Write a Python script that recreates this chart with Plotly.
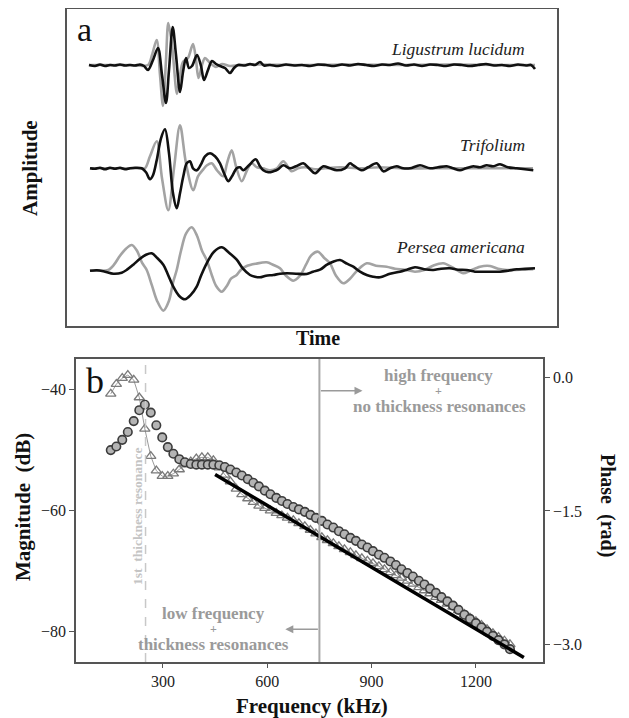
import plotly.graph_objects as go

# The page body has an 8px margin, so the figure is drawn 8px in from the top-left corner.
PAGE_MARGIN = 8
W, H = 621, 710
SERIF = "Liberation Serif, Times New Roman, serif"

# ---------------- panel a: waveforms (time samples, amplitude in arbitrary units) ----------------
lig_black_t = [89,95,100,105,110,115,120,125,130,135,140,144,148,153,158,162,166,169,172.7,176,180,183,186,189,192,197,201,204,208,212,216,220,225,230,234,238,245,250,255,260,264,270,278,286,294,302,310,318,326,334,342,350,358,366,374,382,390,398,406,414,422,430,438,446,454,462,470,478,486,494,502,510,518,526,531,535]
lig_black_a = [0,-1,0.5,-1,0,-0.5,0.5,-0.5,0,-0.5,0.5,-1,-5,5,17,-10,-38,-5,38,10,-27,-7,7,-3,-1,10,-1,-15,-5,4,1,-1,-3,-8,-3,0,-0.5,1,0,3,-0.5,0,-1,0.5,-0.5,0,-1,0.5,0,-1,0.5,-0.5,1,0,-1,0.5,0,1.5,-0.5,0.5,-1,0.5,0,-1,0.5,0,-1,0,1,-0.5,0,-1,0.5,-0.5,0,-4]
lig_gray_t = [89,110,130,148,152,156.7,160,163,166,168.3,172,177,180,183,188,193,196,198.5,202,205,210,216,222,230,240,260,300,350,400,450,500,535]
lig_gray_a = [0,0,0,0,10,25,-10,-41,5,42,20,-29,-10,3,7,21,5,-13,0,7,2,-2,1,-1,0,0.5,0,0.5,0,0.5,0,0]

tri_black_t = [90,95,100,105,110,115,120,125,130,135,141.7,146,150,153,156.7,161,165,169,173,176.7,180,183.3,186.7,190,193,196.7,201,205,210,215,220,224,228.3,232,236.7,240,243.3,249,255.7,260,263.3,268.3,273.3,278,283.3,290,296,303.3,309,315,323.3,330,336.7,345,350,353.3,361.7,368,376.7,383.3,390,396.7,403,410,420,430,438,446.7,453,460,466,473.3,480,486.7,493,500,508,516.7,525,533.3]
tri_black_a = [0,-0.5,0.5,-1,0.5,-0.5,0.5,-1,0,0.5,0,-4,-11,-7,8,30,39,15,-25,-40,-25,-8,5,7,0,-2,4,12,15,12,5,-5,-13,-8,0,1,-2,3,9,2,-2,-4,-3,-1,3,0,2,5,0,-5,2,0,-2,0,5,3,-2,1,5,-3,0,2,0,0,3,0,1,2,0,-2,0,2,1,3,2,4,1,0,-1,-2]
tri_gray_t = [90,110,130,140,145,150,156.7,162,168.3,174,180,186,193.3,198,203.3,207,211.7,217,223.3,227,231.7,236,241.7,247,251.7,257,263,270,277,283.3,291.7,298,305,315,325,340,360,380,400,430,460,500,533]
tri_gray_a = [0,0,0,0,0,12,27,-10,-42,0,43,5,-22,-8,-1,3,5,-2,-8,5,18,2,-13,-2,5,1,0,-2,0,7,-3,0,1,-1,0,1,0,1,0,0,0,0,0]

per_black_t = [90,97,105,113.3,121.7,127,133.3,140,146,151.7,157,163.3,168,173.3,179,185,191,196.7,201,206.7,214,221.7,229,236.7,243,250,255,260,266,273.3,280,286.7,296,306.7,313,320,327,333,340,347,353.3,360,366.7,373,380,390,400,407,415,424,433.3,441,450,458,466.7,475,483.3,491,500,508,516.7,525,535]
per_black_a = [0,0.5,-1,-3,-2,1,6,12,16,17.4,13,6,-4,-16,-25,-28.6,-24,-16,-5,7.4,19,23.4,18,11,2,-4.3,-6,-6.6,-5,-4.3,-3,-2.6,-3,-3.3,-1,1,6,9,10.7,7,4,-1,-4.3,-6,-6.6,-3,-1,1,3.4,1.5,0.7,2,2.4,1,0.7,-1,-1,-1,-1,0,1.4,1.8,2.4]
per_gray_t = [90,100,108.3,114,120,126,131.7,137,142,146.7,152,157,163.3,169,173,176.7,181,186,191.7,197,202,206.7,212,216,221.7,227,231,236.7,241,246.7,256,266.7,273,280,286,293.3,300,306,311,318,324,330,336,343.3,350,357,366.7,376,386.7,395,405,415,425,433,443.3,453,463.3,470,480,490,498,506.7,520,533.3]
per_gray_a = [0,0,0.7,6,15,22,25.7,20,8,0.7,-15,-30,-40,-30,-12,0.7,20,37,43.4,35,20,10.7,-5,-15,-21,-15,-8,-4.3,1,4.7,7,8.4,6,2.4,-5,-10,-5,6,15,19,13,7.4,-5,-12.6,-8,0,7.4,5,4,2,1,-1,1,5,7.4,3,-2.6,0,4,4.7,2,0.7,1,1.4]

species = ["Ligustrum lucidum", "Trifolium", "Persea americana"]
trace_offsets = [261, 157.7, 55.3]

# ---------------- panel b: spectra ----------------
freq_khz = [150,166,183,199,216,232,248,265,281,298,314,330,347,363,380,396,412,429,445,462,478,494,511,527,544,560,576,593,609,626,642,658,675,691,708,724,740,757,773,790,806,822,839,855,872,888,904,921,937,954,970,986,1003,1019,1036,1052,1068,1085,1101,1118,1134,1150,1167,1183,1200,1216,1232,1249,1265,1282,1298]
mag_circles_db = [-50.1,-49.5,-48.4,-47.1,-45.3,-43.5,-42.6,-43.9,-46.0,-48.0,-49.6,-50.7,-51.6,-52.1,-52.4,-52.5,-52.5,-52.5,-52.5,-52.6,-52.9,-53.3,-53.8,-54.3,-54.9,-55.5,-56.1,-56.8,-57.4,-58.0,-58.5,-59.0,-59.5,-59.9,-60.3,-60.8,-61.3,-61.8,-62.4,-62.9,-63.5,-64.0,-64.6,-65.1,-65.7,-66.2,-66.8,-67.4,-67.9,-68.5,-69.1,-69.8,-70.4,-71.0,-71.7,-72.3,-73.0,-73.7,-74.4,-75.1,-75.8,-76.5,-77.3,-78.0,-78.7,-79.4,-80.1,-80.8,-81.5,-82.2,-83.0]
mag_triangles_db = [-40.8,-39.2,-38.2,-37.7,-38.5,-41.4,-46.6,-51.1,-53.5,-54.4,-54.4,-54.0,-53.3,-52.5,-52.0,-51.5,-51.3,-51.3,-51.8,-53.0,-54.2,-55.3,-56.5,-57.4,-58.1,-58.7,-59.3,-59.7,-60.1,-60.5,-60.9,-61.3,-61.7,-62.2,-62.7,-63.3,-63.9,-64.5,-65.0,-65.5,-66.0,-66.5,-67.0,-67.5,-68.0,-68.4,-68.8,-69.3,-69.8,-70.3,-70.8,-71.2,-71.7,-72.2,-72.8,-73.3,-73.8,-74.4,-74.9,-75.5,-76.0,-76.6,-77.2,-77.8,-78.4,-79.0,-79.7,-80.4,-81.0,-81.6,-82.2]
phase_fit_khz = [450, 1338]
phase_fit_rad = [-1.09, -3.15]

resonance_khz = 250
split_khz = 750

freq_ticks = [300, 600, 900, 1200]
mag_ticks = [-40, -60, -80]
phase_ticks = [0.0, -1.5, -3.0]

fig = go.Figure()

GRAY = "#a3a3a3"
for t, a, off in [(lig_gray_t, lig_gray_a, trace_offsets[0]), (tri_gray_t, tri_gray_a, trace_offsets[1]), (per_gray_t, per_gray_a, trace_offsets[2])]:
    fig.add_trace(go.Scatter(x=t, y=[v + off for v in a], mode="lines", xaxis="x", yaxis="y",
                             line=dict(color=GRAY, width=2.6, shape="spline", smoothing=0.9), showlegend=False))
for t, a, off in [(lig_black_t, lig_black_a, trace_offsets[0]), (tri_black_t, tri_black_a, trace_offsets[1]), (per_black_t, per_black_a, trace_offsets[2])]:
    fig.add_trace(go.Scatter(x=t, y=[v + off for v in a], mode="lines", xaxis="x", yaxis="y",
                             line=dict(color="#111111", width=2.6, shape="spline", smoothing=0.9), showlegend=False))

fig.add_trace(go.Scatter(x=freq_khz, y=mag_triangles_db, mode="lines+markers", xaxis="x2", yaxis="y2",
                         line=dict(color="#9a9a9a", width=1),
                         marker=dict(symbol="triangle-up-open", size=9, color="#7a7a7a", line=dict(width=1.3, color="#7a7a7a")),
                         showlegend=False))
fig.add_trace(go.Scatter(x=freq_khz, y=mag_circles_db, mode="markers", xaxis="x2", yaxis="y2",
                         marker=dict(symbol="circle", size=8.5, color="#b4b4b4", line=dict(width=1.6, color="#3c3c3c")),
                         showlegend=False))
fig.add_trace(go.Scatter(x=phase_fit_khz, y=phase_fit_rad, mode="lines", xaxis="x2", yaxis="y3",
                         line=dict(color="#000000", width=3.5), showlegend=False))

def px(x):
    return (x - PAGE_MARGIN) / W

def py(y):
    return 1 - (y - PAGE_MARGIN) / H

tickfont = dict(family=SERIF, size=16, color="#222222")
fig.update_layout(
    width=W, height=H, autosize=False,
    margin=dict(l=0, r=0, t=0, b=0),
    paper_bgcolor="white", plot_bgcolor="white",
    xaxis=dict(domain=[px(67), px(557)], range=[67, 557], showticklabels=False, ticks="",
               showgrid=False, zeroline=False, showline=True, mirror=True, linecolor="#555555", linewidth=1.5),
    yaxis=dict(domain=[py(326), py(9)], range=[0, 317], showticklabels=False, ticks="",
               showgrid=False, zeroline=False, showline=True, mirror=True, linecolor="#555555", linewidth=1.5),
    xaxis2=dict(domain=[px(76), px(543)], range=[50, 1393], anchor="y2", tickvals=freq_ticks,
                ticks="outside", ticklen=4, tickcolor="#555555", tickfont=tickfont,
                showgrid=False, zeroline=False, showline=True, mirror=True, linecolor="#555555", linewidth=1.5),
    yaxis2=dict(domain=[py(662), py(359)], range=[-85.12, -35.04], anchor="x2", tickvals=mag_ticks,
                ticks="outside", ticklen=5, tickcolor="#555555", tickfont=tickfont,
                showgrid=False, zeroline=False, showline=True, linecolor="#555555", linewidth=1.5),
    yaxis3=dict(overlaying="y2", side="right", anchor="x2", range=[-3.2, 0.21], tickvals=phase_ticks,
                tickformat=".1f", ticks="outside", ticklen=5, tickcolor="#555555", tickfont=tickfont,
                showgrid=False, zeroline=False, showline=True, linecolor="#555555", linewidth=1.5),
)

shapes = [
    dict(type="line", xref="x2", yref="paper", x0=resonance_khz, x1=resonance_khz, y0=py(662), y1=py(359),
         line=dict(color="#c8c8c8", width=1.5, dash="dash")),
    dict(type="line", xref="x2", yref="paper", x0=split_khz, x1=split_khz, y0=py(662), y1=py(359),
         line=dict(color="#a8a8a8", width=2)),
]
fig.update_layout(shapes=shapes)

ann = []
def text(s, x, y, size, color="#111111", angle=0, xanchor="center", bold=False, italic=False):
    if bold:
        s = "<b>" + s + "</b>"
    if italic:
        s = "<i>" + s + "</i>"
    ann.append(dict(text=s, x=px(x), y=py(y), xref="paper", yref="paper", showarrow=False,
                    xanchor=xanchor, yanchor="middle", textangle=angle,
                    font=dict(family=SERIF, size=size, color=color)))

text("a", 84, 30, 34)
text("b", 95, 381, 36)
text(species[0], 527, 49, 17.5, color="#222222", xanchor="right", italic=True)
text(species[1], 527, 145, 17.5, color="#222222", xanchor="right", italic=True)
text(species[2], 527, 247, 17.5, color="#222222", xanchor="right", italic=True)
text("Amplitude", 30, 168, 21, angle=-90, bold=True)
text("Time", 318, 338, 20, bold=True)
text("Magnitude  (dB)", 23, 507, 21, angle=-90, bold=True)
text("Phase  (rad)", 607, 505, 20, angle=90, bold=True)
text("Frequency (kHz)", 312, 706, 21, bold=True)

LG = "#9a9a9a"
text("high frequency", 438, 375, 17, color=LG, bold=True)
text("+", 438, 391, 12, color=LG, bold=True)
text("no thickness resonances", 439, 406, 17, color=LG, bold=True)
text("low frequency", 213, 613, 17, color=LG, bold=True)
text("+", 213, 629, 12, color=LG, bold=True)
text("thickness resonances", 213, 644, 17, color=LG, bold=True)
text("1st  thickness resonance", 137, 517, 13.5, color="#c4c4c4", angle=-90, bold=True)

ann.append(dict(x=874, y=-40.3, ax=split_khz, ay=-40.3, xref="x2", yref="y2", axref="x2", ayref="y2",
                showarrow=True, arrowhead=2, arrowsize=1, arrowwidth=1.6, arrowcolor=LG, text=""))
ann.append(dict(x=652, y=-79.7, ax=split_khz, ay=-79.7, xref="x2", yref="y2", axref="x2", ayref="y2",
                showarrow=True, arrowhead=2, arrowsize=1, arrowwidth=1.6, arrowcolor=LG, text=""))
fig.update_layout(annotations=ann)

fig.write_html("out.html")
